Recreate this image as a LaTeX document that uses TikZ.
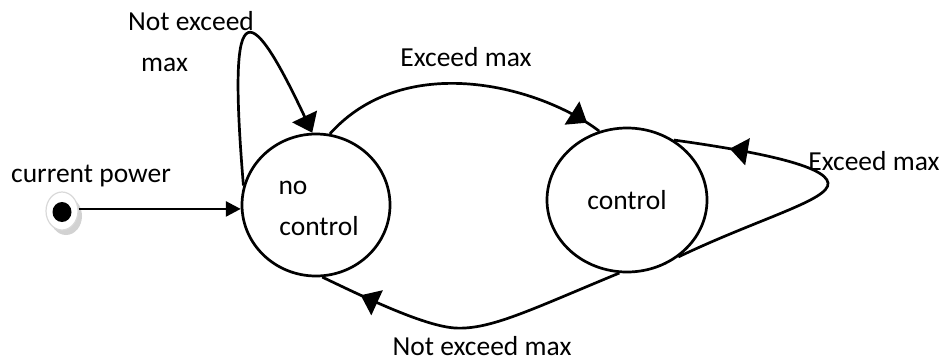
\documentclass[tikz,border=0pt]{standalone}
\usepackage{fontspec}
\setmainfont{Carlito}
\usetikzlibrary{arrows.meta,decorations.markings,shapes.geometric}
\begin{document}
\begin{tikzpicture}[x=1pt,y=-1pt,
  lbl/.style={font=\fontsize{27.5}{41}\selectfont, inner sep=0pt, anchor=base},
  st/.style={draw, ellipse, line width=2.7pt, inner sep=0pt},
  conn/.style={line width=2.7pt},
  midarrow/.style={postaction={decorate},
    decoration={markings,mark=at position #1 with {\arrow{Triangle[length=18pt,width=27pt]}}}}
]
\useasboundingbox (0,0) rectangle (944,360);

% initial pseudo-state: shadow, ring and dot
\node[ellipse, fill=gray!35, inner sep=0pt, minimum width=32pt, minimum height=38pt] (initshadow) at (66,216) {};
\node[ellipse, fill=white, draw=gray!30, line width=1.2pt, inner sep=0pt,
      minimum width=32pt, minimum height=38pt] (init) at (62,211) {};
\node[ellipse, fill=black, inner sep=0pt, minimum width=19pt, minimum height=20pt] (initdot) at (62,212) {};

% states
\node[st, minimum width=148pt, minimum height=142pt] (nc) at (316,205) {};
\node[st, minimum width=160pt, minimum height=144pt] (ctl) at (627,200) {};

% state texts
\node[lbl] (tno) at (293,194) {no};
\node[lbl] (tnoctl) at (319,235) {control};
\node[lbl] (tctl) at (627,209) {control};

% transitions
\draw[conn,-{Triangle[length=15pt,width=15pt]}] (init.east |- nc.183) -- (nc.183);
\draw[conn,-{Triangle[length=18pt,width=27pt]}] (nc.165) .. controls (228,0) and (245,-10) .. (nc.93);
\draw[conn,midarrow=0.95] (nc.79) .. controls (405,50) and (540,86) .. (ctl.112);
\draw[conn,midarrow=0.83] (ctl.-48) .. controls (760,218) and (830,200) .. (828,183)
   .. controls (826,166) and (760,152) .. (ctl.52);
\draw[conn,midarrow=0.866] (ctl.264) .. controls (530,310) and (490,330) .. (455,328)
   .. controls (425,326) and (370,300) .. (nc.275);

% transition labels
\node[lbl] (lcur) at (91,182) {current power};
\node[lbl] (lnot1) at (191,30) {Not exceed};
\node[lbl] (lnot2) at (164.5,71) {max};
\node[lbl] (lexc) at (466,66) {Exceed max};
\node[lbl] (lexc2) at (874,170) {Exceed max};
\node[lbl] (lnot3) at (482,355) {Not exceed max};
\end{tikzpicture}
\end{document}
